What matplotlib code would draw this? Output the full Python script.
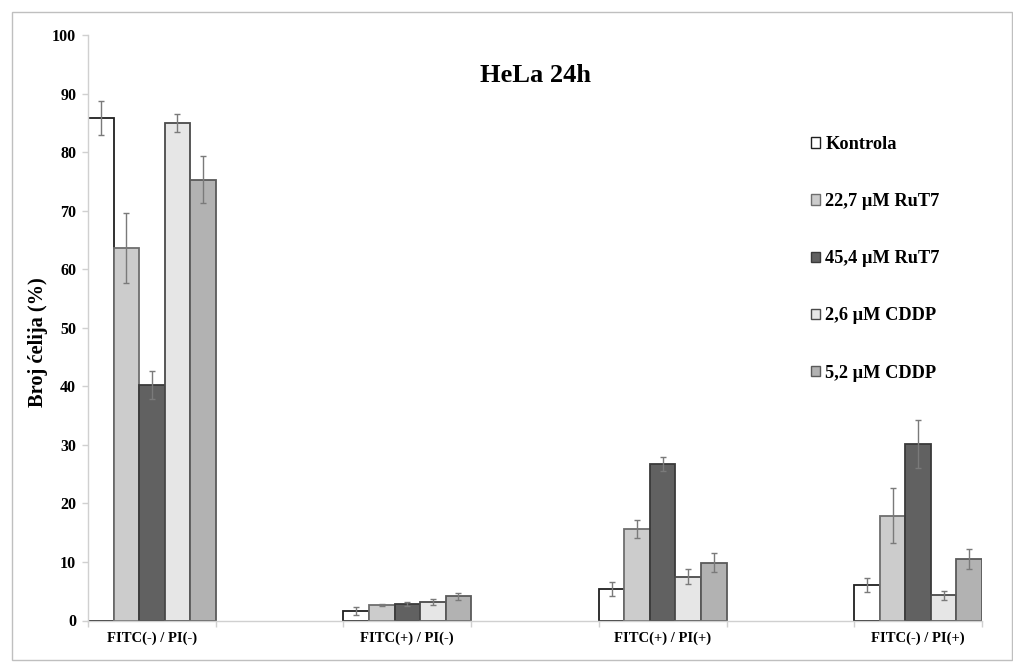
import numpy as np
import matplotlib
matplotlib.use("Agg")
import matplotlib.pyplot as plt
from matplotlib.patches import Rectangle

categories = ["FITC(-) / PI(-)", "FITC(+) / PI(-)", "FITC(+) / PI(+)", "FITC(-) / PI(+)"]
series_names = ["Kontrola", "22,7 µM RuT7", "45,4 µM RuT7", "2,6 µM CDDP", "5,2 µM CDDP"]
kontrola = [85.8, 1.6, 5.4, 6.1]
rut7_227 = [63.6, 2.6, 15.7, 17.9]
rut7_454 = [40.2, 2.8, 26.7, 30.2]
cddp_26 = [84.9, 3.2, 7.5, 4.3]
cddp_52 = [75.3, 4.1, 9.9, 10.5]
err_kontrola = [2.9, 0.65, 1.2, 1.15]
err_rut7_227 = [5.95, 0.2, 1.55, 4.65]
err_rut7_454 = [2.45, 0.4, 1.25, 4.1]
err_cddp_26 = [1.55, 0.55, 1.3, 0.8]
err_cddp_52 = [3.95, 0.6, 1.7, 1.75]
yticks = [0, 10, 20, 30, 40, 50, 60, 70, 80, 90, 100]

values = [kontrola, rut7_227, rut7_454, cddp_26, cddp_52]
errors = [err_kontrola, err_rut7_227, err_rut7_454, err_cddp_26, err_cddp_52]
fills = ["#ffffff", "#cccccc", "#616161", "#e6e6e6", "#b2b2b2"]
edges = ["#202020", "#6e6e6e", "#3a3a3a", "#4a4a4a", "#5a5a5a"]

plt.rcParams["font.family"] = ["Liberation Serif", "DejaVu Serif"]
plt.rcParams["font.weight"] = "bold"

fig = plt.figure(figsize=(10.13, 6.68), dpi=100)
fig.patches.append(Rectangle((12/1013, 8/668), 1000/1013, 648/668, transform=fig.transFigure,
                             fill=False, edgecolor="#bfbfbf", linewidth=1.0))
ax = fig.add_axes([88/1013, 1 - 620.5/668, 894/1013, 585.5/668])

x = np.arange(len(categories))
bw = 0.1
for i, (vals, errs) in enumerate(zip(values, errors)):
    pos = x - 0.25 + bw * (i + 0.5)
    ax.bar(pos, vals, width=bw, color=fills[i], edgecolor=edges[i], linewidth=1.3,
           label=series_names[i], zorder=2)
    ax.errorbar(pos, vals, yerr=errs, fmt="none", ecolor="#7a7a7a", elinewidth=1.0,
                capsize=2.5, capthick=1.0, zorder=3)

ax.set_xlim(-0.25, len(categories) - 0.75)
ax.set_ylim(0, 100)
ax.set_yticks(yticks)
ax.set_yticklabels([str(t) for t in yticks], fontsize=11.5, fontweight="bold")
ax.set_xticks(x)
ax.set_xticklabels(categories, fontsize=10.5, fontweight="bold")
ax.tick_params(axis="x", length=0, pad=8)
edges_x = sorted(set(list(x - 0.25) + list(x + 0.25)))
ax.set_xticks(edges_x, minor=True)
ax.tick_params(axis="x", which="minor", length=4, color="#d0d0d0", width=1)
ax.tick_params(axis="y", length=4, color="#d0d0d0", width=1, pad=4.5)

for s in ["top", "right"]:
    ax.spines[s].set_visible(False)
ax.spines["left"].set_color("#d0d0d0")
ax.spines["bottom"].set_color("#d0d0d0")
ax.spines["left"].set_linewidth(1.0)
ax.spines["bottom"].set_linewidth(1.0)

ax.set_ylabel("Broj ćelija (%)", fontsize=14.7, fontweight="bold", va="center")
ax.yaxis.set_label_coords((37.5 - 88) / 894, (620.5 - 342) / 585.5)
fig.text(536/1013, 1 - 76/668, "HeLa 24h", fontsize=19, fontweight="bold",
         ha="center", va="center")

leg = ax.legend(loc="upper left", bbox_to_anchor=(811/1013, 1 - 136/668),
                bbox_transform=fig.transFigure, frameon=False, fontsize=13.2,
                handlelength=0.5, handleheight=0.5, handletextpad=0.28,
                labelspacing=2.19, borderaxespad=0, borderpad=0)
for t in leg.get_texts():
    t.set_fontweight("bold")
for h in leg.legend_handles:
    h.set_linewidth(1.0)

fig.savefig("out.png", dpi=100, facecolor="white")
